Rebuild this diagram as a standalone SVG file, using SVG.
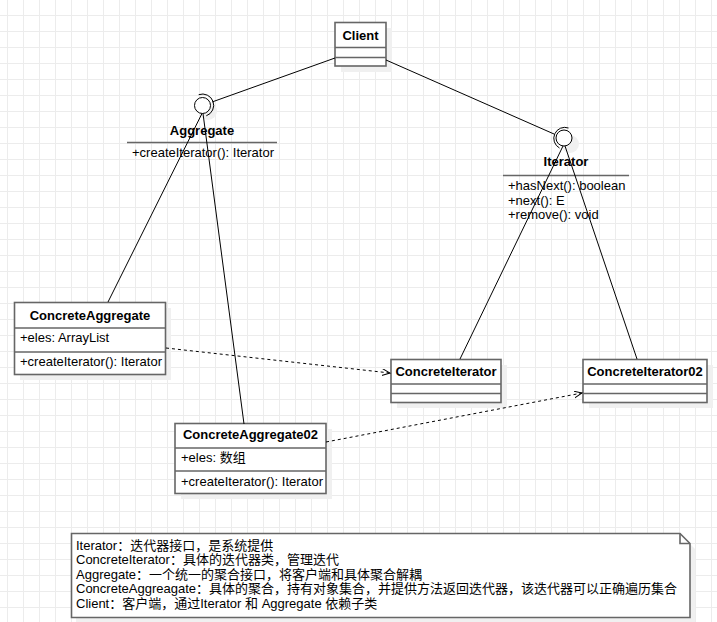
<svg xmlns="http://www.w3.org/2000/svg" width="717" height="622" viewBox="0 0 717 622">
<defs>
<pattern id="grid" width="16" height="16" patternUnits="userSpaceOnUse" x="7" y="15">
<rect width="16" height="1" fill="#ececec"/>
<rect width="1" height="16" fill="#ececec"/>
</pattern>
<marker id="open" markerWidth="10" markerHeight="10" refX="8" refY="3.5" orient="auto" markerUnits="userSpaceOnUse">
<path d="M0,0 L8,3.5 L0,7" fill="none" stroke="#000" stroke-width="1"/>
</marker>
</defs>
<style>
text{font-family:"Liberation Sans",Arial,"Noto Sans CJK SC",sans-serif;font-size:13px;fill:#000}
.b{font-weight:bold;text-anchor:middle}
.box{fill:#fff;stroke:#666;stroke-width:1.6}
.sep{stroke:#666;stroke-width:1.6;fill:none}
.sh{fill:#f0f0f0}
.con{stroke:#000;stroke-width:1;fill:none}
.dash{stroke:#000;stroke-width:1;fill:none;stroke-dasharray:3 3}
</style>
<rect width="717" height="622" fill="#fff"/>
<rect width="717" height="622" fill="url(#grid)"/>

<g id="client">
<rect class="sh" x="341" y="28" width="51" height="44"/>
<rect class="box" x="335" y="22.5" width="51" height="43.5"/>
<line class="sep" x1="335" y1="47.5" x2="386" y2="47.5"/>
<line class="sep" x1="335" y1="57.5" x2="386" y2="57.5"/>
<text class="b" x="360.5" y="40">Client</text>
</g>

<g id="aggregate">
<circle class="sh" cx="208" cy="111" r="9"/>
<circle cx="202.5" cy="105.5" r="8" fill="#fff" stroke="#000" stroke-width="1"/>
<path class="con" d="M198.7,94.7 A11,11 0 0 1 206.3,115.8"/>
<text class="b" x="202" y="135">Aggregate</text>
<line class="sep" x1="127" y1="142.5" x2="277" y2="142.5"/>
<text x="132" y="157">+createIterator(): Iterator</text>
</g>

<g id="iterator">
<circle class="sh" cx="570" cy="144" r="9"/>
<circle cx="564" cy="138" r="8" fill="#fff" stroke="#000" stroke-width="1"/>
<path class="con" d="M568.5,128 A11,11 0 0 0 559.5,148"/>
<text class="b" x="566" y="166">Iterator</text>
<line class="sep" x1="503" y1="175.5" x2="629" y2="175.5"/>
<text x="508" y="190">+hasNext(): boolean</text>
<text x="508" y="204.5">+next(): E</text>
<text x="508" y="219">+remove(): void</text>
</g>

<g id="concreteAggregate">
<rect class="sh" x="20" y="308" width="151" height="72"/>
<rect class="box" x="14.5" y="302.5" width="151" height="72"/>
<line class="sep" x1="14.5" y1="328" x2="165.5" y2="328"/>
<line class="sep" x1="14.5" y1="352" x2="165.5" y2="352"/>
<text class="b" x="90" y="320">ConcreteAggregate</text>
<text x="20" y="342">+eles: ArrayList</text>
<text x="20" y="366">+createIterator(): Iterator</text>
</g>

<g id="concreteIterator">
<rect class="sh" x="397" y="365" width="110" height="43"/>
<rect class="box" x="391" y="359.5" width="110" height="43"/>
<line class="sep" x1="391" y1="384" x2="501" y2="384"/>
<line class="sep" x1="391" y1="393.5" x2="501" y2="393.5"/>
<text class="b" x="446" y="376">ConcreteIterator</text>
</g>

<g id="concreteIterator02">
<rect class="sh" x="589" y="365" width="124" height="43"/>
<rect class="box" x="583" y="359.5" width="124" height="43"/>
<line class="sep" x1="583" y1="384" x2="707" y2="384"/>
<line class="sep" x1="583" y1="393.5" x2="707" y2="393.5"/>
<text class="b" x="645" y="376">ConcreteIterator02</text>
</g>

<g id="concreteAggregate02">
<rect class="sh" x="181" y="429" width="151" height="70"/>
<rect class="box" x="175" y="423.5" width="151" height="70"/>
<line class="sep" x1="175" y1="448" x2="326" y2="448"/>
<line class="sep" x1="175" y1="471" x2="326" y2="471"/>
<text class="b" x="250.5" y="439">ConcreteAggregate02</text>
<text x="181" y="462">+eles: 数组</text>
<text x="181" y="486">+createIterator(): Iterator</text>
</g>

<g id="note">
<path class="sh" d="M76,539 H685 L695,549 V622 H76 Z"/>
<path class="box" d="M71.5,533.5 H680 L690,543.5 V617.5 H71.5 Z"/>
<path class="sep" d="M680,533.5 V543.5 H690"/>
<text x="76" y="549.5">Iterator：迭代器接口，是系统提供</text>
<text x="76" y="564">ConcreteIterator：具体的迭代器类，管理迭代</text>
<text x="76" y="578.5">Aggregate：一个统一的聚合接口，将客户端和具体聚合解耦</text>
<text x="76" y="593">ConcreteAggreagate：具体的聚合，持有对象集合，并提供方法返回迭代器，该迭代器可以正确遍历集合</text>
<text x="76" y="607.5">Client：客户端，通过Iterator 和 Aggregate 依赖子类</text>
</g>

<g id="connectors">
<line class="con" x1="335" y1="58" x2="212" y2="102"/>
<line class="con" x1="386" y1="60" x2="554" y2="134"/>
<line class="con" x1="202" y1="113.5" x2="108" y2="302"/>
<line class="con" x1="203" y1="113.5" x2="244" y2="424"/>
<line class="con" x1="563" y1="146" x2="460" y2="359"/>
<line class="con" x1="565" y1="146" x2="637" y2="359"/>
<line class="dash" x1="166" y1="348" x2="390" y2="373" marker-end="url(#open)"/>
<line class="dash" x1="326" y1="442" x2="582" y2="393" marker-end="url(#open)"/>
</g>
</svg>
